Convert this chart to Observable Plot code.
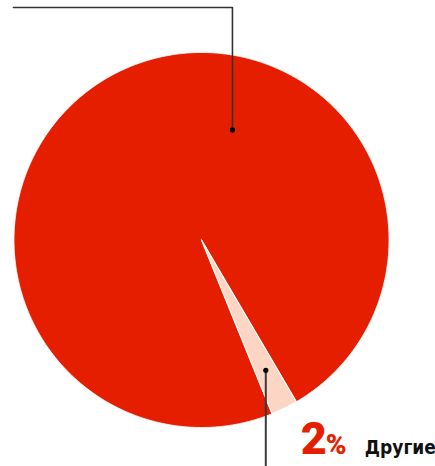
<!DOCTYPE html>
<html><head><meta charset="utf-8">
<script src="https://cdn.jsdelivr.net/npm/d3@7"></script>
<script src="https://cdn.jsdelivr.net/npm/@observablehq/plot@0.6"></script>
<style>html,body{margin:0;padding:0;background:#fff}svg{display:block}</style>
</head><body><div id="chart"></div>
<script>
// data
const categories = ["Другие", "Крупнейшие"];
const values = [2.3, 97.7];
const valueLabels = ["2%", ""];
const colors = ["#fdd5c4", "#e61e00"];

// layout (not data)
const W = 435, H = 466;
const startDeg = 149.6;
const smallAnchor = {r: 0.775};            // dot on mid-angle of small slice
const bigAnchor = {deg: 15.7, r: 0.61, topY: 1.24, leftX: -1.003};

const pie = d3.pie().sort(null).value(d => d.value).startAngle(startDeg * Math.PI / 180).endAngle(startDeg * Math.PI / 180 + 2 * Math.PI);
const table = categories.map((c, i) => ({category: c, value: values[i], label: valueLabels[i], color: colors[i]}));
const arcs = pie(table);

function slicePoints(a) {
  const pts = [{x: 0, y: 0}];
  const n = Math.max(4, Math.ceil((a.endAngle - a.startAngle) / 0.01));
  for (let k = 0; k <= n; k++) {
    const t = a.startAngle + (a.endAngle - a.startAngle) * k / n;
    pts.push({x: Math.sin(t), y: Math.cos(t)});
  }
  pts.push({x: 0, y: 0});
  return pts;
}

const small = arcs[0];
const midS = (small.startAngle + small.endAngle) / 2;
const smallDot = {x: smallAnchor.r * Math.sin(midS), y: smallAnchor.r * Math.cos(midS)};
const bt = bigAnchor.deg * Math.PI / 180;
const bigDot = {x: bigAnchor.r * Math.sin(bt), y: bigAnchor.r * Math.cos(bt)};
const bigLeader = [bigDot, {x: bigDot.x, y: bigAnchor.topY}, {x: bigAnchor.leftX, y: bigAnchor.topY}];

const sliceMarks = arcs.slice().reverse().map(a =>
  Plot.line(slicePoints(a), {x: "x", y: "y", fill: a.data.color, stroke: "#fff", strokeWidth: a.data.category === "Другие" ? 1.2 : 0.8, curve: "linear"})
);

const chart = Plot.plot({
  width: W, height: H,
  marginLeft: 13.5, marginRight: 46.5, marginTop: 52, marginBottom: 39,
  x: {domain: [-1, 1], axis: null},
  y: {domain: [-1, 1], axis: null},
  style: {background: "#fff", overflow: "hidden"},
  marks: [
    ...sliceMarks,
    Plot.line(bigLeader, {x: "x", y: "y", stroke: "#333", strokeWidth: 1.6}),
    Plot.link([smallDot], {x1: "x", y1: "y", x2: "x", y2: () => -1.3, stroke: "#3a3a3a", strokeWidth: 2}),
    Plot.dot([bigDot, smallDot], {x: "x", y: "y", r: 2.6, fill: "#000"}),
    Plot.text([smallDot], {x: "x", frameAnchor: "bottom", dy: 26, dx: 35, text: () => valueLabels[0].replace("%", ""), textAnchor: "start", lineAnchor: "bottom", fill: "#e61e00", fontSize: 45, fontWeight: 900, fontFamily: "Roboto, 'Liberation Sans', sans-serif"}),
    Plot.text([smallDot], {x: "x", frameAnchor: "bottom", dy: 26, dx: 60, text: () => "%", textAnchor: "start", lineAnchor: "bottom", fill: "#e61e00", fontSize: 28, fontWeight: 900, fontFamily: "Roboto, 'Liberation Sans', sans-serif"}),
    Plot.text([smallDot], {x: "x", frameAnchor: "bottom", dy: 26, dx: 99, text: () => categories[0], textAnchor: "start", lineAnchor: "bottom", fill: "#111", fontSize: 19, fontWeight: "bold", fontFamily: "'Liberation Sans Narrow', 'DejaVu Sans Condensed', sans-serif"})
  ]
});
document.getElementById("chart").appendChild(chart);
</script>
</body></html>
